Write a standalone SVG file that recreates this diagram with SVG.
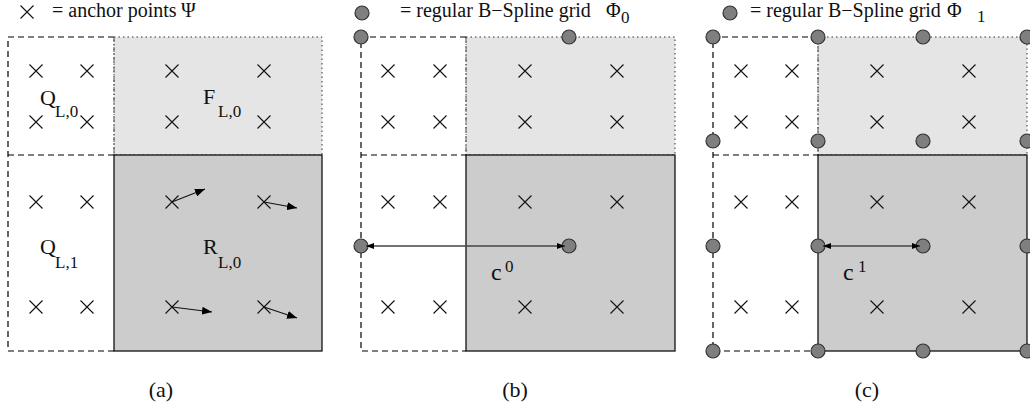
<svg xmlns="http://www.w3.org/2000/svg" width="1030" height="412" viewBox="0 0 1030 412">
<style>
  text{font-family:"Liberation Serif","Times New Roman",serif;fill:#111}
  .hdr{font-size:20px}
  .lab{font-size:22px}
  .sub{font-size:17px}
  .cap{font-size:22px}
  .q{fill:none;stroke:#000;stroke-width:1.2;stroke-dasharray:6 4}
  .f{fill:#e5e5e5;stroke:#333;stroke-width:1;stroke-dasharray:1.5 3}
  .fl{fill:none;stroke:#555;stroke-width:1;stroke-dasharray:5 2 1 2}
  .r{fill:#cccccc;stroke:#111;stroke-width:1.3}
  .x{stroke:#111;stroke-width:1.1;fill:none}
  .pt{fill:#7f7f7f;stroke:#333;stroke-width:1.2}
  .vec{stroke:#111;stroke-width:1.1;fill:none}
  .dbl{stroke:#444;stroke-width:1.6;fill:none}
</style>
<defs>
  <path id="cr" d="M-6.5,-6.5L6.5,6.5M-6.5,6.5L6.5,-6.5" class="x"/>
  <marker id="ah" viewBox="0 0 10 8" refX="10" refY="4" markerWidth="10" markerHeight="8" markerUnits="userSpaceOnUse" orient="auto">
    <path d="M0,0L10,4L0,8z" fill="#000"/>
  </marker>
  <marker id="dh" viewBox="0 0 8 6" refX="8" refY="3" markerWidth="8" markerHeight="6" markerUnits="userSpaceOnUse" orient="auto-start-reverse">
    <path d="M0,0L8,3L0,6z" fill="#000"/>
  </marker>
</defs>

<!-- legends -->
<g id="legend-a">
  <use href="#cr" x="27" y="12"/>
  <text class="hdr" x="52" y="17">= anchor points</text>
  <text class="hdr" x="181" y="17">Ψ</text>
</g>
<g id="legend-b">
  <circle class="pt" cx="362" cy="13" r="7"/>
  <text class="hdr" x="400" y="17">= regular B−Spline grid<tspan x="606">Φ</tspan><tspan class="sub" x="621" y="23">0</tspan></text>
</g>
<g id="legend-c">
  <circle class="pt" cx="730" cy="13" r="7"/>
  <text class="hdr" x="750" y="17">= regular B−Spline grid<tspan x="947">Φ</tspan><tspan class="sub" x="977" y="22">1</tspan></text>
</g>

<!-- panel a -->
<g id="panel-a">
  <rect class="f" x="114" y="37" width="208" height="118"/>
  <line class="fl" x1="114" y1="37" x2="114" y2="155"/>
  <rect class="r" x="114" y="155" width="208" height="196"/>
  <path class="q" d="M114,37H8V351H114M8,155H114"/>
  <g id="crosses-a">
    <use href="#cr" x="36" y="71"/><use href="#cr" x="87" y="71"/><use href="#cr" x="172" y="71"/><use href="#cr" x="264" y="71"/>
    <use href="#cr" x="36" y="122"/><use href="#cr" x="87" y="122"/><use href="#cr" x="172" y="122"/><use href="#cr" x="264" y="122"/>
    <use href="#cr" x="36" y="202"/><use href="#cr" x="87" y="202"/><use href="#cr" x="172" y="202"/><use href="#cr" x="264" y="202"/>
    <use href="#cr" x="36" y="307"/><use href="#cr" x="87" y="307"/><use href="#cr" x="172" y="307"/><use href="#cr" x="264" y="307"/>
  </g>
  <text class="lab" x="40" y="105">Q<tspan class="sub" x="55" y="117">L,0</tspan></text>
  <text class="lab" x="203" y="104">F<tspan class="sub" x="218" y="117">L,0</tspan></text>
  <text class="lab" x="40" y="254">Q<tspan class="sub" x="55" y="268">L,1</tspan></text>
  <text class="lab" x="203" y="254">R<tspan class="sub" x="218" y="268">L,0</tspan></text>
</g>

<!-- panel b -->
<g id="panel-b">
  <rect class="f" x="466" y="37" width="209" height="118"/>
  <line class="fl" x1="466" y1="37" x2="466" y2="155"/>
  <rect class="r" x="466" y="155" width="209" height="196"/>
  <path class="q" d="M466,37H361V351H466M361,155H466"/>
  <g id="crosses-b">
    <use href="#cr" x="388" y="71"/><use href="#cr" x="440" y="71"/><use href="#cr" x="525" y="71"/><use href="#cr" x="617" y="71"/>
    <use href="#cr" x="388" y="122"/><use href="#cr" x="440" y="122"/><use href="#cr" x="525" y="122"/><use href="#cr" x="617" y="122"/>
    <use href="#cr" x="388" y="202"/><use href="#cr" x="440" y="202"/><use href="#cr" x="525" y="202"/><use href="#cr" x="617" y="202"/>
    <use href="#cr" x="388" y="307"/><use href="#cr" x="440" y="307"/><use href="#cr" x="525" y="307"/><use href="#cr" x="617" y="307"/>
  </g>
  <g id="grid-b">
    <circle class="pt" cx="361" cy="37" r="7"/><circle class="pt" cx="569" cy="37" r="7"/>
    <circle class="pt" cx="361" cy="246" r="7"/><circle class="pt" cx="569" cy="246" r="7"/>
  </g>
  <text class="lab" x="491" y="280" style="font-size:24px">c<tspan class="sub" x="505" y="272">0</tspan></text>
</g>

<!-- panel c -->
<g id="panel-c">
  <rect class="f" x="818" y="37" width="209" height="118"/>
  <line class="fl" x1="818" y1="37" x2="818" y2="155"/>
  <rect class="r" x="818" y="155" width="209" height="196"/>
  <path class="q" d="M818,37H713V351H818M713,155H818"/>
  <g id="crosses-c">
    <use href="#cr" x="741" y="71"/><use href="#cr" x="792" y="71"/><use href="#cr" x="877" y="71"/><use href="#cr" x="969" y="71"/>
    <use href="#cr" x="741" y="122"/><use href="#cr" x="792" y="122"/><use href="#cr" x="877" y="122"/><use href="#cr" x="969" y="122"/>
    <use href="#cr" x="741" y="202"/><use href="#cr" x="792" y="202"/><use href="#cr" x="877" y="202"/><use href="#cr" x="969" y="202"/>
    <use href="#cr" x="741" y="307"/><use href="#cr" x="792" y="307"/><use href="#cr" x="877" y="307"/><use href="#cr" x="969" y="307"/>
  </g>
  <g id="grid-c">
    <circle class="pt" cx="713" cy="37" r="7"/><circle class="pt" cx="818" cy="37" r="7"/><circle class="pt" cx="923" cy="37" r="7"/><circle class="pt" cx="1027" cy="37" r="7"/>
    <circle class="pt" cx="713" cy="141" r="7"/><circle class="pt" cx="818" cy="141" r="7"/><circle class="pt" cx="923" cy="141" r="7"/><circle class="pt" cx="1027" cy="141" r="7"/>
    <circle class="pt" cx="713" cy="246" r="7"/><circle class="pt" cx="818" cy="246" r="7"/><circle class="pt" cx="923" cy="246" r="7"/><circle class="pt" cx="1027" cy="246" r="7"/>
    <circle class="pt" cx="713" cy="351" r="7"/><circle class="pt" cx="818" cy="351" r="7"/><circle class="pt" cx="923" cy="351" r="7"/><circle class="pt" cx="1027" cy="351" r="7"/>
  </g>
  <text class="lab" x="843" y="280" style="font-size:24px">c<tspan class="sub" x="858" y="272">1</tspan></text>
</g>

<!-- connectors -->
<g id="connectors">
  <line class="vec" x1="172" y1="202" x2="205" y2="189" marker-end="url(#ah)"/>
  <line class="vec" x1="264" y1="202" x2="297" y2="208" marker-end="url(#ah)"/>
  <line class="vec" x1="172" y1="307" x2="212" y2="312" marker-end="url(#ah)"/>
  <line class="vec" x1="264" y1="307" x2="297" y2="318" marker-end="url(#ah)"/>
  <line class="dbl" x1="366" y1="246" x2="565" y2="246" marker-start="url(#dh)" marker-end="url(#dh)"/>
  <line class="dbl" x1="823" y1="246" x2="920" y2="246" marker-start="url(#dh)" marker-end="url(#dh)"/>
</g>

<!-- captions -->
<g id="captions">
  <text class="cap" x="161" y="397" text-anchor="middle">(a)</text>
  <text class="cap" x="515" y="397" text-anchor="middle">(b)</text>
  <text class="cap" x="867" y="397" text-anchor="middle">(c)</text>
</g>
</svg>
